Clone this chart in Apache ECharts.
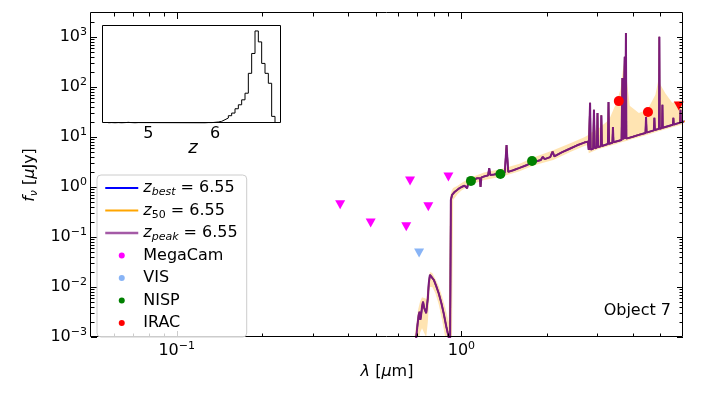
<!DOCTYPE html>
<html>
<head>
<meta charset="utf-8">
<script src="https://cdn.jsdelivr.net/npm/echarts@6/dist/echarts.min.js"></script>
<style>
  html, body { margin: 0; padding: 0; background: #fff; }
  #chart { width: 703px; height: 395px; }
</style>
</head>
<body>
<div id="chart"></div>
<script>
// best-fit template at z = 6.55 (wavelength in um, flux in uJy)
const lamModel = [0.680, 0.694, 0.702, 0.708, 0.713, 0.717, 0.721, 0.727, 0.733, 0.740,
  0.747, 0.752, 0.757, 0.762, 0.768, 0.775, 0.785, 0.800, 0.815, 0.832,
  0.850, 0.866, 0.885, 0.902, 0.912, 0.916,
  0.918, 0.927, 0.945, 0.966, 0.985, 1.006, 1.025, 1.047, 1.055, 1.076,
  1.105, 1.136, 1.160, 1.167, 1.175, 1.198, 1.240, 1.252, 1.262, 1.300,
  1.364, 1.420, 1.440, 1.460, 1.52, 1.60, 1.70, 1.77, 1.80, 1.90,
  1.93, 1.96, 2.05, 2.09, 2.12, 2.25, 2.40, 2.55, 2.70, 2.78,
  2.80, 2.815, 2.830, 2.845, 2.900, 2.920, 2.940, 2.990, 3.005, 3.020,
  3.085, 3.100, 3.115, 3.270, 3.285, 3.300, 3.390, 3.405, 3.420, 3.650,
  3.675, 3.700, 3.735, 3.745, 3.760, 3.770, 3.782, 3.795, 4.00, 4.20,
  4.43, 4.45, 4.47, 4.74, 4.76, 4.78, 4.94, 4.955, 4.97, 5.065,
  5.08, 5.095, 5.53, 5.55, 5.57, 5.86, 5.88, 5.90, 6.10];
const fluxModel = [0.0003, 0.0010, 0.0019, 0.0028, 0.0032, 0.0022, 0.0026, 0.0040, 0.0051, 0.0038,
  0.0041, 0.0030, 0.0030, 0.0060, 0.0120, 0.0175, 0.0160, 0.0138, 0.0105, 0.0075,
  0.0048, 0.0030, 0.0016, 0.0010, 0.0005, 0.0005,
  0.55, 0.69, 0.79, 0.87, 0.95, 1.01, 1.06, 0.94, 1.15, 1.30,
  1.40, 1.49, 1.50, 1.00, 1.55, 1.61, 1.70, 2.37, 1.74, 1.78,
  1.86, 1.95, 6.9, 2.0, 2.15, 2.4, 2.75, 3.06, 3.15, 3.45,
  4.0, 3.6, 3.95, 5.1, 4.1, 4.9, 5.8, 6.8, 7.7, 8.06,
  5.5, 5.5, 48, 5.6, 5.8, 35, 5.95, 6.15, 30, 6.25,
  6.5, 27, 6.6, 7.2, 50, 7.3, 7.65, 15.8, 7.8, 8.7,
  150, 8.9, 9.0, 400, 9.1, 9.15, 1200, 9.25, 10.1, 11,
  12, 25, 12.2, 13.5, 24, 13.7, 14.5, 1000, 14.6, 15.1,
  44, 15.3, 17.5, 24, 17.7, 19.3, 35, 19.5, 20.6];

// spread of the fits (shaded band)
const bandLam = [0.680, 0.694, 0.705, 0.715, 0.727, 0.740, 0.752, 0.762, 0.775, 0.790,
  0.810, 0.832, 0.855, 0.880, 0.902, 0.912, 0.925, 0.935, 0.97, 1.0,
  1.08, 1.2, 1.37, 1.6, 1.8, 2.1, 2.4, 2.7, 2.78, 2.80,
  3.0, 3.3, 3.5, 3.62, 3.70, 3.76, 3.82, 3.90, 4.20, 4.50,
  4.80, 4.92, 5.00, 5.20, 5.50, 6.10];
const bandLo = [0.0001, 0.0003, 0.0008, 0.0012, 0.0015, 0.0012, 0.0010, 0.0020, 0.0100, 0.0100,
  0.0075, 0.0045, 0.0022, 0.0009, 0.0004, 0.0003, 0.0003, 0.55, 0.72, 0.85,
  1.12, 1.38, 1.58, 2.05, 2.7, 3.45, 4.95, 6.6, 6.9, 4.7,
  5.6, 6.6, 7.2, 7.7, 8.0, 8.2, 8.4, 8.8, 9.9, 11,
  12.4, 13, 13.3, 14.2, 15.6, 18.5];
const bandHi = [0.0008, 0.0018, 0.0036, 0.0050, 0.0062, 0.0060, 0.0058, 0.0100, 0.0200, 0.0190,
  0.0145, 0.0105, 0.0065, 0.0036, 0.0020, 0.65, 0.85, 0.95, 1.05, 1.2,
  1.55, 1.95, 2.25, 2.9, 3.9, 5.4, 7.4, 9.8, 10.8, 11.5,
  14, 22, 48, 90, 250, 380, 120, 42, 30, 35,
  70, 140, 110, 75, 48, 55];

// photometry
const megacamLam = [0.375, 0.48, 0.64, 0.66, 0.765, 0.90];
const megacamFlux = [0.44, 0.19, 0.16, 1.32, 0.40, 1.58];
const visLam = [0.71];
const visFlux = [0.048];
const nispLam = [1.08, 1.37, 1.77];
const nispFlux = [1.32, 1.82, 3.3];
const iracLam = [3.57, 4.52, 5.8];
const iracFlux = [52, 31.6, 41.7];
const iracUpper = [false, false, true];

// redshift pdf histogram (inset)
const zEdges = [4.40, 4.45, 4.50, 4.55, 4.60, 4.65, 4.70, 4.75, 4.80, 4.85,
  5.85, 5.90, 5.95, 6.00, 6.05, 6.10, 6.15, 6.20, 6.25, 6.30, 6.35,
  6.40, 6.45, 6.50, 6.55, 6.60, 6.65, 6.70, 6.75, 6.80, 6.85, 6.90];
const zCounts = [1, 0, 1, 0, 1, 2, 1, 0, 1, 0,
  1, 1, 2, 3, 5, 10, 15, 22, 30, 43,
  55, 70, 90, 150, 210, 278, 245, 180, 150, 120, 20];

// ticks
const xMajor = [0.1, 1];
const xMinor = [0.06, 0.07, 0.08, 0.09, 0.2, 0.3, 0.4, 0.5, 0.6, 0.7, 0.8, 0.9, 2, 3, 4, 5];
const yMajor = [1e-3, 1e-2, 1e-1, 1, 10, 100, 1000];
const insetLabels = [5, 6];

const FONT = 'DejaVu Sans';
const chart = echarts.init(document.getElementById('chart'));

const modelPts = lamModel.map((l, i) => [l, fluxModel[i]]);
const histPts = [[zEdges[0], 0]];
zCounts.forEach((c, i) => histPts.push([zEdges[i], c]));
histPts.push([zEdges[zEdges.length - 1], 0]);

function powLabel(v, list) {
  for (const t of list) {
    if (Math.abs(v - t) / t < 1e-6) {
      const e = Math.round(Math.log10(t));
      return '{b|10}{s|' + (e < 0 ? '\u2212' + (-e) : e) + '}';
    }
  }
  return '';
}
const powRich = {
  b: { fontFamily: FONT, fontSize: 16, lineHeight: 20, color: '#000' },
  s: { fontFamily: FONT, fontSize: 11, lineHeight: 11, verticalAlign: 'top', color: '#000' }
};
const legRich = {
  i: { fontFamily: FONT, fontStyle: 'italic', fontSize: 16, lineHeight: 20, color: '#000' },
  n: { fontFamily: FONT, fontSize: 16, lineHeight: 20, color: '#000' },
  si: { fontFamily: FONT, fontStyle: 'italic', fontSize: 11, lineHeight: 11, verticalAlign: 'bottom', color: '#000' },
  sn: { fontFamily: FONT, fontSize: 11, lineHeight: 11, verticalAlign: 'bottom', color: '#000' }
};
const legNames = {
  zbest: '{i|z}{si|best}{n| = 6.55}',
  z50: '{i|z}{sn|50}{n| = 6.55}',
  zpeak: '{i|z}{si|peak}{n| = 6.55}'
};
const noDot = { opacity: 0, borderWidth: 0 };

chart.setOption({
  animation: false,
  grid: [
    { left: 91, top: 13, width: 592, height: 324, outerBoundsMode: 'none' },
    { left: 103, top: 26, width: 178, height: 97, show: true, backgroundColor: '#fff', borderWidth: 0, outerBoundsMode: 'none' }
  ],
  xAxis: [
    {
      type: 'log', gridIndex: 0, min: 0.05, max: 6,
      axisLine: { show: false }, axisTick: { show: false }, splitLine: { show: false },
      axisLabel: { margin: 4, formatter: v => powLabel(v, xMajor), rich: powRich }
    },
    {
      type: 'value', gridIndex: 1, min: 4.32, max: 6.99,
      axisLine: { show: false }, axisTick: { show: false }, splitLine: { show: false },
      axisLabel: {
        margin: 3, fontFamily: FONT, fontSize: 16, color: '#000',
        formatter: v => insetLabels.some(t => Math.abs(v - t) < 1e-6) ? String(Math.round(v)) : ''
      }
    }
  ],
  yAxis: [
    {
      type: 'log', gridIndex: 0, min: 1e-3, max: 3000,
      axisLine: { show: false }, axisTick: { show: false }, splitLine: { show: false },
      axisLabel: { margin: 4, formatter: v => powLabel(v, yMajor), rich: powRich }
    },
    { type: 'value', gridIndex: 1, min: 0, max: 293, show: false, splitLine: { show: false } }
  ],
  legend: {
    orient: 'vertical', left: 97, top: 175,
    itemWidth: 33, itemHeight: 6, itemGap: 2.5,
    padding: [3, 9, 4, 7],
    backgroundColor: 'rgba(255,255,255,0.8)', borderColor: '#cccccc', borderWidth: 1, borderRadius: 4,
    selectedMode: false, z: 6,
    textStyle: { fontFamily: FONT, fontSize: 16, lineHeight: 20, color: '#000', rich: legRich },
    formatter: name => legNames[name] || name,
    data: [
      { name: 'zbest', itemStyle: noDot },
      { name: 'z50', itemStyle: noDot },
      { name: 'zpeak', itemStyle: noDot, lineStyle: { color: '#a45aa6', width: 2.5 } },
      { name: 'MegaCam', icon: 'circle' }, { name: 'VIS', icon: 'circle' },
      { name: 'NISP', icon: 'circle' }, { name: 'IRAC', icon: 'circle' }
    ]
  },
  series: [
    {
      name: 'zbest', type: 'line', data: modelPts, symbol: 'none', showSymbol: false,
      lineStyle: { color: '#0000ff', width: 1.5 }, itemStyle: { color: '#0000ff' }, z: 1, silent: true
    },
    {
      name: 'band', type: 'custom', clip: true, z: 1, silent: true,
      data: bandLam.map((l, i) => [l, bandLo[i], bandHi[i]]),
      renderItem: function (params, api) {
        if (params.dataIndex !== 0) return null;
        const pts = [];
        for (let i = 0; i < bandLam.length; i++) pts.push(api.coord([bandLam[i], bandHi[i]]));
        for (let i = bandLam.length - 1; i >= 0; i--) pts.push(api.coord([bandLam[i], bandLo[i]]));
        return { type: 'polygon', shape: { points: pts }, style: { fill: 'rgba(255,165,0,0.3)', stroke: null } };
      }
    },
    {
      name: 'z50', type: 'line', data: modelPts, symbol: 'none', showSymbol: false,
      lineStyle: { color: '#ffa500', width: 1.5 }, itemStyle: { color: '#ffa500' }, z: 2, silent: true
    },
    {
      name: 'zpeak', type: 'line', data: modelPts, symbol: 'none', showSymbol: false,
      lineStyle: { color: '#7a1a7c', width: 2 }, itemStyle: { color: '#800080' }, z: 2, silent: true
    },
    {
      name: 'MegaCam', type: 'scatter', data: megacamLam.map((l, i) => [l, megacamFlux[i]]),
      symbol: 'triangle', symbolRotate: 180, symbolSize: [10, 9],
      itemStyle: { color: '#ff00ff', opacity: 1 }, z: 3
    },
    {
      name: 'VIS', type: 'scatter', data: visLam.map((l, i) => [l, visFlux[i]]),
      symbol: 'triangle', symbolRotate: 180, symbolSize: [10, 9],
      itemStyle: { color: '#88b4f6', opacity: 1 }, z: 3
    },
    {
      name: 'NISP', type: 'scatter', data: nispLam.map((l, i) => [l, nispFlux[i]]),
      symbol: 'circle', symbolSize: 10, itemStyle: { color: '#008000', opacity: 1 }, z: 3
    },
    {
      name: 'IRAC', type: 'scatter',
      data: iracLam.map((l, i) => iracUpper[i]
        ? { value: [l, iracFlux[i]], symbol: 'triangle', symbolRotate: 180, symbolSize: [10, 9] }
        : { value: [l, iracFlux[i]] }),
      symbol: 'circle', symbolSize: 10, itemStyle: { color: '#ff0000', opacity: 1 }, z: 3
    },
    {
      name: 'pdf', type: 'line', xAxisIndex: 1, yAxisIndex: 1, data: histPts, step: 'end',
      symbol: 'none', showSymbol: false, lineStyle: { color: '#000', width: 1 }, z: 5, silent: true
    }
  ]
});

// spines, ticks and texts
const L = 91, R = 683, T = 13, B = 337;
const gfx = [];
function seg(x1, y1, x2, y2) {
  gfx.push({ type: 'line', silent: true, z: 4, shape: { x1, y1, x2, y2 }, style: { stroke: '#000', lineWidth: 1 } });
}
function px(v) { return Math.round(chart.convertToPixel({ xAxisIndex: 0 }, v)) + 0.5; }
function py(v) { return Math.round(chart.convertToPixel({ yAxisIndex: 0 }, v)) + 0.5; }
xMajor.forEach(v => { const x = px(v); seg(x, B, x, B - 6); seg(x, T, x, T + 6); });
xMinor.forEach(v => { const x = px(v); seg(x, B, x, B - 3.5); seg(x, T, x, T + 3.5); });
yMajor.forEach(v => { const y = py(v); seg(L, y, L + 6, y); seg(R, y, R - 6, y); });
yMajor.forEach(v => {
  for (let k = 2; k <= 9; k++) {
    const val = v * k;
    if (val >= 3000) continue;
    const y = py(val); seg(L, y, L + 3.5, y); seg(R, y, R - 3.5, y);
  }
});
gfx.push({ type: 'rect', silent: true, z: 4, shape: { x: L - 0.5, y: T - 0.5, width: R - L, height: B - T },
  style: { fill: null, stroke: '#000', lineWidth: 1 } });
gfx.push({ type: 'rect', silent: true, z: 4, shape: { x: 102.5, y: 25.5, width: 178, height: 97 },
  style: { fill: null, stroke: '#000', lineWidth: 1 } });
gfx.push({ type: 'text', silent: true, z: 4, x: 387, y: 372,
  style: { text: '{i|\u03bb}{n| [}{i|\u03bc}{n|m]}', rich: legRich, textAlign: 'center', textVerticalAlign: 'middle' } });
gfx.push({ type: 'text', silent: true, z: 4, x: 30, y: 175, rotation: Math.PI / 2,
  style: { text: '{i|f}{si|\u03bd}{n| [}{i|\u03bc}{n|Jy]}', rich: legRich, textAlign: 'center', textVerticalAlign: 'middle' } });
gfx.push({ type: 'text', silent: true, z: 4, x: 193, y: 148,
  style: { text: 'z', font: 'italic 18px "DejaVu Sans"', fill: '#000', textAlign: 'center', textVerticalAlign: 'middle' } });
gfx.push({ type: 'text', silent: true, z: 4, x: 671, y: 311,
  style: { text: 'Object 7', font: '16px "DejaVu Sans"', fill: '#000', textAlign: 'right', textVerticalAlign: 'middle' } });

chart.setOption({ graphic: { elements: gfx } });
</script>
</body>
</html>
